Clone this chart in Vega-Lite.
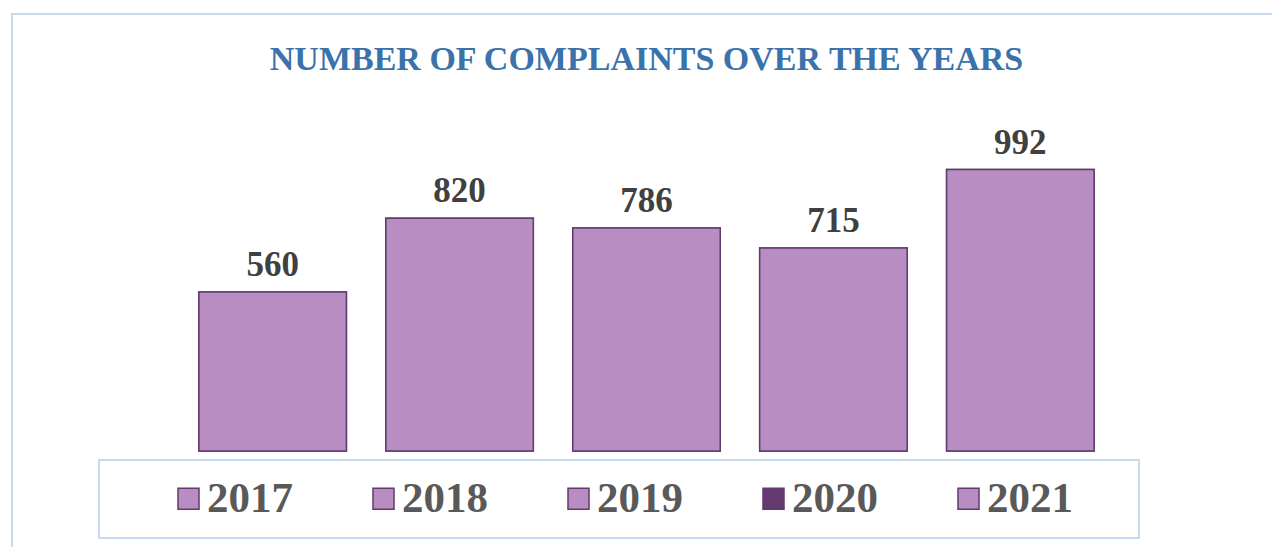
{
  "$schema": "https://vega.github.io/schema/vega-lite/v6.json",
  "autosize": "none",
  "width": 1269,
  "height": 540,
  "padding": {"left": 12, "top": 14, "right": 0, "bottom": 0},
  "background": "white",
  "title": {
    "text": "NUMBER OF COMPLAINTS OVER THE YEARS",
    "anchor": "middle",
    "frame": "group",
    "baseline": "alphabetic",
    "offset": -90,
    "font": "Liberation Serif",
    "fontWeight": "bold",
    "fontSize": 34,
    "color": "#3A72AB"
  },
  "data": {
    "values": [
      {"Year": "2017", "Complaints": 560},
      {"Year": "2018", "Complaints": 820},
      {"Year": "2019", "Complaints": 786},
      {"Year": "2020", "Complaints": 715},
      {"Year": "2021", "Complaints": 992}
    ]
  },
  "encoding": {
    "x": {
      "field": "Year",
      "type": "nominal",
      "axis": null,
      "scale": {"paddingInner": 0.211, "paddingOuter": 1.013}
    },
    "y": {
      "field": "Complaints",
      "type": "quantitative",
      "axis": null,
      "scale": {"domain": [-363, 1540], "nice": false, "zero": false}
    }
  },
  "layer": [
    {
      "mark": {"type": "bar", "stroke": "#623A6E", "strokeWidth": 1.5},
      "encoding": {
        "y2": {"datum": 0},
        "fill": {
          "field": "Year",
          "type": "nominal",
          "scale": {"range": ["#B88DC2", "#B88DC2", "#B88DC2", "#643A70", "#B88DC2"]},
          "legend": {
            "orient": "none",
            "legendX": 87,
            "legendY": 446,
            "direction": "horizontal",
            "title": "\u00a0",
            "titleOrient": "right",
            "titleFontSize": 1,
            "titlePadding": 49,
            "padding": 17,
            "strokeColor": "#C6D9F1",
            "symbolType": "square",
            "symbolSize": 441,
            "symbolOffset": 51,
            "symbolStrokeColor": "#623A6E",
            "symbolStrokeWidth": 1.5,
            "symbolOpacity": 1,
            "labelFont": "Liberation Serif",
            "labelFontWeight": "bold",
            "labelFontSize": 43,
            "labelColor": "#595959",
            "labelOffset": -3,
            "labelLimit": 300,
            "columnPadding": 18
          }
        }
      }
    },
    {
      "mark": {"type": "bar", "fill": "#B88DC2", "stroke": "#623A6E", "strokeWidth": 1.5},
      "encoding": {"y2": {"datum": 0}}
    },
    {
      "mark": {
        "type": "text",
        "baseline": "alphabetic",
        "dy": -16,
        "font": "Liberation Serif",
        "fontWeight": "bold",
        "fontSize": 35,
        "color": "#404040"
      },
      "encoding": {"text": {"field": "Complaints", "type": "quantitative"}}
    }
  ],
  "config": {
    "view": {"stroke": "#C6D9F1", "strokeWidth": 2},
    "legend": {"strokeWidth": 2}
  }
}
